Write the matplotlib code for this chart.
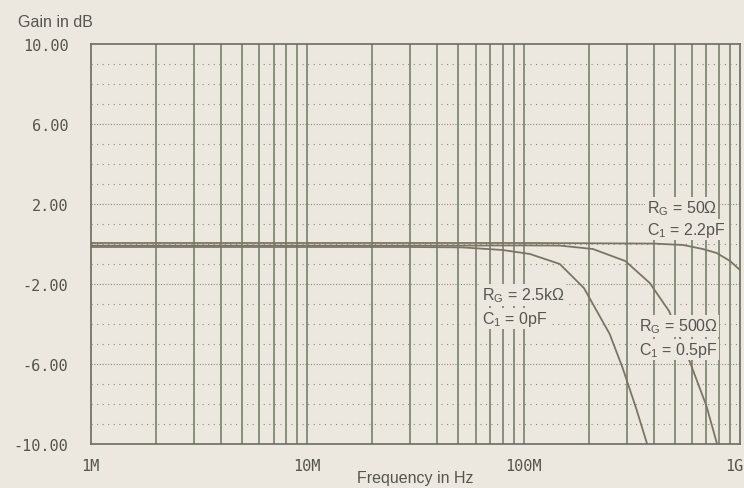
import numpy as np
import matplotlib
matplotlib.use("Agg")
import matplotlib.pyplot as plt
import matplotlib.transforms as mtransforms

# ---- data (MHz, dB) ----
f_25k = [1, 10, 30, 52, 80, 107, 147, 190, 250, 287, 332, 370, 385]
g_25k = [-0.15, -0.15, -0.15, -0.17, -0.3, -0.5, -1.0, -2.2, -4.5, -6.2, -8.25, -9.9, -10.6]

f_500 = [1, 10, 50, 100, 147, 209, 295, 383, 470, 587, 700, 779, 800]
g_500 = [-0.08, -0.08, -0.08, -0.07, -0.08, -0.25, -0.85, -1.95, -3.35, -5.9, -8.1, -9.9, -10.5]

f_50 = [1, 10, 100, 400, 546, 673, 780, 900, 1000]
g_50 = [0.05, 0.05, 0.05, 0.02, -0.05, -0.25, -0.45, -0.85, -1.3]

yticks = [-10, -6, -2, 2, 6, 10]
xticks = [1e6, 1e7, 1e8, 1e9]
xlabels = ["1M", "10M", "100M", "1G"]

bg = "#ece8df"
grid_c = "#77816b"
curve_c = "#7a7563"
txt_c = "#555550"

plt.rcParams["font.family"] = ["Liberation Sans", "DejaVu Sans"]
plt.rcParams["mathtext.fontset"] = "custom"
plt.rcParams["mathtext.rm"] = "Liberation Sans"

fig = plt.figure(figsize=(7.44, 4.89), dpi=100, facecolor=bg)
ax = fig.add_axes([0.1219, 0.09, 0.9946 - 0.1219, 0.908 - 0.09])
ax.set_facecolor(bg)

ax.set_xscale("log")
ax.set_xlim(1e6, 1e9)
ax.set_ylim(-10, 10)

# vertical solid grid at 1..9 x decade
for d in [1e6, 1e7, 1e8]:
    for k in range(1, 10):
        if d * k > 1e6:
            ax.axvline(d * k, color=grid_c, lw=1.2, zorder=1)

# horizontal dotted grid, denser dots on labelled lines
for v in range(-9, 10):
    if v in yticks:
        ax.axhline(v, color="#8a8a80", lw=0.8, ls=(0, (1, 1.5)), zorder=1)
    else:
        ax.axhline(v, color="#8a8a80", lw=0.8, ls=(0, (1, 4)), zorder=1)

for f, g in [(f_25k, g_25k), (f_500, g_500), (f_50, g_50)]:
    ax.plot(np.array(f) * 1e6, g, color=curve_c, lw=1.3, zorder=2)

box = dict(facecolor=bg, edgecolor="none", pad=1.0)
kw = dict(fontsize=11.5, color=txt_c, ha="left", va="baseline", bbox=box, zorder=3)
ax.text(371e6, 1.58, r"R$_\mathrm{G}$ = 50Ω", **kw)
ax.text(371e6, 0.5, r"C$_\mathrm{1}$ = 2.2pF", **kw)
ax.text(64e6, -2.78, r"R$_\mathrm{G}$ = 2.5kΩ", **kw)
ax.text(64e6, -3.95, r"C$_\mathrm{1}$ = 0pF", **kw)
ax.text(341e6, -4.33, r"R$_\mathrm{G}$ = 500Ω", **kw)
ax.text(341e6, -5.5, r"C$_\mathrm{1}$ = 0.5pF", **kw)

ax.set_yticks(yticks)
ax.set_yticklabels([f"{v:.2f}" for v in yticks], family="DejaVu Sans Mono",
                   fontsize=11, color=txt_c)
ax.set_xticks(xticks)
ax.set_xticklabels(xlabels, family="DejaVu Sans Mono", fontsize=11, color=txt_c)
ax.xaxis.set_minor_locator(matplotlib.ticker.NullLocator())
ax.tick_params(axis="both", which="both", length=0)
ax.tick_params(axis="y", pad=16)
ax.tick_params(axis="x", pad=10)

# last label sits against the right edge of the picture
last = ax.get_xticklabels()[-1]
last.set_ha("right")
last.set_transform(last.get_transform() +
                   mtransforms.ScaledTranslation(3 / 100, 0, fig.dpi_scale_trans))

for s in ax.spines.values():
    s.set_color("#6a6a60")
    s.set_linewidth(1.2)

fig.text(415 / 744, 1 - 479 / 489, "Frequency in Hz", fontsize=11.5, color=txt_c,
         ha="center", va="center")
fig.text(18 / 744, 1 - 27 / 489, "Gain in dB", fontsize=11.5, color=txt_c,
         ha="left", va="baseline")

fig.savefig("out.png", dpi=100, facecolor=bg)
